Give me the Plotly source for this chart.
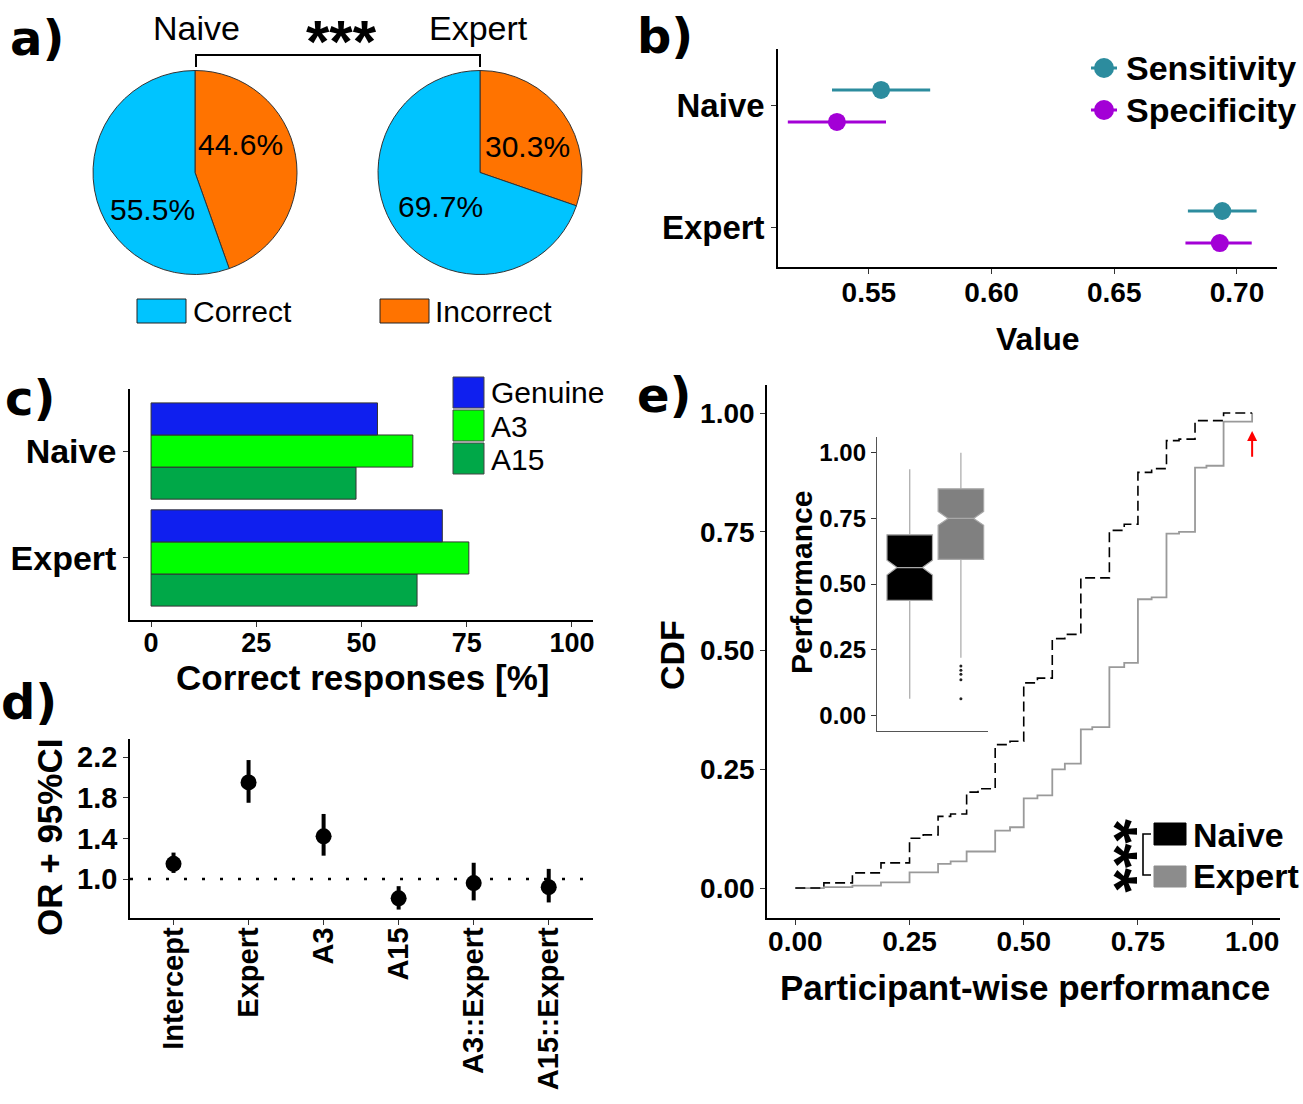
import plotly.graph_objects as go

W, H = 1303, 1104
FONT = "Liberation Sans, Arial, sans-serif"
LABEL_FONT = "DejaVu Sans, Verdana, sans-serif"

# ---------------- data ----------------
pie_labels = ["Incorrect", "Correct"]
naive_pie = [44.6, 55.5]
expert_pie = [30.3, 69.7]

groups = ["Naive", "Expert"]
sens_val = [0.555, 0.694]
sens_lo = [0.535, 0.680]
sens_hi = [0.575, 0.708]
spec_val = [0.537, 0.693]
spec_lo = [0.517, 0.679]
spec_hi = [0.557, 0.706]

genuine_pct = [53.8, 69.2]
a3_pct = [62.2, 75.5]
a15_pct = [48.7, 63.2]

terms = ["Intercept", "Expert", "A3", "A15", "A3::Expert", "A15::Expert"]
odds = [1.15, 1.95, 1.42, 0.81, 0.96, 0.92]
odds_lo = [1.06, 1.75, 1.23, 0.70, 0.79, 0.77]
odds_hi = [1.26, 2.17, 1.64, 0.93, 1.16, 1.10]

cdf_naive_x = [0, 0.0625, 0.125, 0.1875, 0.25, 0.28, 0.3125, 0.34, 0.375, 0.40,
               0.4375, 0.47, 0.5, 0.53, 0.5625, 0.59, 0.625, 0.6875, 0.72, 0.75,
               0.78, 0.8125, 0.84, 0.875, 0.9375, 1.0]
cdf_naive_y = [0, 0.011, 0.032, 0.053, 0.105, 0.112, 0.151, 0.156, 0.202, 0.209,
               0.302, 0.309, 0.432, 0.442, 0.525, 0.534, 0.653, 0.753, 0.766, 0.875,
               0.883, 0.942, 0.945, 0.984, 1.0, 1.0]
cdf_expert_x = [0, 0.0625, 0.125, 0.1875, 0.25, 0.3125, 0.34, 0.375, 0.4375, 0.47,
                0.5, 0.53, 0.5625, 0.59, 0.625, 0.65, 0.6875, 0.72, 0.75, 0.78,
                0.8125, 0.84, 0.875, 0.90, 0.9375, 1.0]
cdf_expert_y = [0, 0.002, 0.005, 0.012, 0.033, 0.051, 0.056, 0.077, 0.121, 0.128,
                0.189, 0.195, 0.250, 0.262, 0.334, 0.339, 0.465, 0.474, 0.608, 0.612,
                0.746, 0.750, 0.885, 0.889, 0.982, 1.0]

box_naive = dict(low=0.0625, q1=0.438, med=0.5625, q3=0.6875, high=0.9375, notch=0.028)
box_expert = dict(low=0.219, q1=0.594, med=0.75, q3=0.8625, high=1.0, notch=0.026)
expert_outliers = [0.1875, 0.171, 0.156, 0.135, 0.0625]

perf_ticks = [0, 0.25, 0.5, 0.75, 1.0]
perf_ticktext = ["0.00", "0.25", "0.50", "0.75", "1.00"]

# ---------------- colours ----------------
C_CORRECT = "#00C4FF"
C_INCORRECT = "#FF7300"
C_SENS = "#2C8C9E"
C_SPEC = "#A300D6"
C_GEN = "#0F1FEF"
C_A3 = "#00FF00"
C_A15 = "#00A848"
C_EXP_GREY = "#9a9a9a"


def px(x):
    return x / W


def py(y):
    return 1 - y / H


fig = go.Figure()

# ---- a) pies ----
for vals, dom in [(naive_pie, [93, 297]), (expert_pie, [378, 582])]:
    fig.add_trace(go.Pie(
        values=vals, labels=pie_labels, sort=False, direction="clockwise", rotation=0,
        marker=dict(colors=[C_INCORRECT, C_CORRECT], line=dict(color="#333", width=1)),
        textinfo="none",
        domain=dict(x=[px(dom[0]), px(dom[1])], y=[py(277), py(68)]),
        showlegend=False, hoverinfo="skip"))

# ---- b) sensitivity / specificity ----
for name, v, lo, hi, col in [("Specificity", spec_val, spec_lo, spec_hi, C_SPEC),
                             ("Sensitivity", sens_val, sens_lo, sens_hi, C_SENS)]:
    fig.add_trace(go.Scatter(
        x=v, y=groups, mode="markers", orientation="h", name=name,
        marker=dict(color=col, size=18),
        error_x=dict(type="data", symmetric=False,
                     array=[h - m for h, m in zip(hi, v)],
                     arrayminus=[m - l for m, l in zip(v, lo)],
                     color=col, thickness=3, width=0),
        xaxis="x", yaxis="y", showlegend=False))

# ---- c) bars ----
for name, vals, col in [("A15", a15_pct, C_A15), ("A3", a3_pct, C_A3), ("Genuine", genuine_pct, C_GEN)]:
    fig.add_trace(go.Bar(
        x=vals, y=groups, orientation="h", name=name,
        marker=dict(color=col, line=dict(color="#333", width=1)),
        xaxis="x2", yaxis="y2", showlegend=False))

# ---- d) odds ratios ----
fig.add_trace(go.Scatter(
    x=terms, y=odds, mode="markers",
    marker=dict(color="black", size=16),
    error_y=dict(type="data", symmetric=False,
                 array=[h - m for h, m in zip(odds_hi, odds)],
                 arrayminus=[m - l for m, l in zip(odds, odds_lo)],
                 color="black", thickness=4, width=0),
    xaxis="x3", yaxis="y3", showlegend=False))

# ---- e) CDF ----
fig.add_trace(go.Scatter(
    x=cdf_expert_x, y=cdf_expert_y, mode="lines", line=dict(shape="hv", color=C_EXP_GREY, width=1.8),
    offsetgroup="cdf", xaxis="x4", yaxis="y4", showlegend=False))
fig.add_trace(go.Scatter(
    x=cdf_naive_x, y=cdf_naive_y, mode="lines", line=dict(shape="hv", color="black", width=1.6, dash="10px,5px"),
    offsetgroup="cdf", xaxis="x4", yaxis="y4", showlegend=False))

# ---- inset boxplots ----
for name, st, fill in [("Naive", box_naive, "black"), ("Expert", box_expert, "#808080")]:
    fig.add_trace(go.Box(
        x=[name], q1=[st["q1"]], median=[st["med"]], q3=[st["q3"]],
        lowerfence=[st["low"]], upperfence=[st["high"]], notchspan=[st["notch"]],
        notched=True, notchwidth=0.22, width=0.89, whiskerwidth=0,
        fillcolor=fill, line=dict(color="#a8a8a8", width=1.2),
        xaxis="x5", yaxis="y5", showlegend=False, hoverinfo="skip"))
fig.add_trace(go.Scatter(
    x=["Expert"] * len(expert_outliers), y=expert_outliers, mode="markers",
    marker=dict(color="#222", size=3), xaxis="x5", yaxis="y5", showlegend=False))

# ---------------- axes ----------------
base = dict(showline=True, linecolor="black", linewidth=1.6, ticks="outside", ticklen=5,
            tickwidth=1.2, tickcolor="#333", showgrid=False, zeroline=False, fixedrange=True)


def tf(size):
    return dict(family=FONT, size=size, color="black", weight="bold")


layout_axes = dict(
    xaxis=dict(base, domain=[px(778), px(1277)], anchor="y", range=[0.513, 0.7163],
               tickvals=[0.55, 0.60, 0.65, 0.70], ticktext=["0.55", "0.60", "0.65", "0.70"],
               tickfont=tf(28), ticklabelstandoff=-5),
    yaxis=dict(base, domain=[py(267), py(49)], anchor="x", type="category",
               categoryorder="array", categoryarray=["Expert", "Naive"], range=[-0.33, 1.47],
               tickfont=tf(33)),
    xaxis2=dict(base, domain=[px(130), px(593)], anchor="y2", range=[-5, 105],
                tickvals=[0, 25, 50, 75, 100], tickfont=tf(27), ticklabelstandoff=-7),
    yaxis2=dict(base, domain=[py(620), py(389)], anchor="x2", type="category",
                categoryorder="array", categoryarray=["Expert", "Naive"], range=[-0.58, 1.58],
                tickfont=tf(34)),
    xaxis3=dict(base, domain=[px(130), px(593)], anchor="y3", type="category",
                categoryorder="array", categoryarray=terms, range=[-0.58, 5.59],
                tickangle=-90, tickfont=tf(29), ticklabelstandoff=-9),
    yaxis3=dict(base, domain=[py(918), py(739)], anchor="x3", range=[0.617, 2.377],
                tickvals=[1.0, 1.4, 1.8, 2.2], ticktext=["1.0", "1.4", "1.8", "2.2"],
                tickfont=tf(29)),
    xaxis4=dict(base, domain=[px(767), px(1280)], anchor="y4", range=[-0.062, 1.061],
                tickvals=perf_ticks, ticktext=perf_ticktext, tickfont=tf(28), ticklabelstandoff=-7),
    yaxis4=dict(base, domain=[py(918), py(385)], anchor="x4", range=[-0.063, 1.059],
                tickvals=perf_ticks, ticktext=perf_ticktext, tickfont=tf(28)),
    xaxis5=dict(base, domain=[px(877), px(988)], anchor="y5", type="category",
                categoryorder="array", categoryarray=["Naive", "Expert"], range=[-0.64, 1.53],
                showticklabels=False, ticks="", linecolor="#555", linewidth=1.3),
    yaxis5=dict(base, domain=[py(731), py(437)], anchor="x5", range=[-0.06, 1.06],
                tickvals=perf_ticks, ticktext=perf_ticktext, tickfont=tf(24),
                linecolor="#555", linewidth=1.3),
)

shapes = []
annotations = []


def rect(x0, y0, x1, y1, fill, line="#222", lw=1):
    shapes.append(dict(type="rect", xref="paper", yref="paper", x0=px(x0), x1=px(x1),
                       y0=py(y1), y1=py(y0), fillcolor=fill, line=dict(color=line, width=lw)))


def seg(x0, y0, x1, y1, color="black", width=1.6):
    shapes.append(dict(type="line", xref="paper", yref="paper", x0=px(x0), x1=px(x1),
                       y0=py(y0), y1=py(y1), line=dict(color=color, width=width)))


def text(x, y, s, size, bold=False, xanchor="center", angle=0, family=FONT, color="black"):
    annotations.append(dict(x=px(x), y=py(y), xref="paper", yref="paper", text=s, showarrow=False,
                            xanchor=xanchor, yanchor="middle", textangle=angle,
                            font=dict(family=family, size=size, color=color,
                                      weight="bold" if bold else "normal")))


# panel letters
for lab, x, y in [("a)", 37, 38), ("b)", 665, 36), ("c)", 30, 398), ("d)", 29, 702), ("e)", 664, 395)]:
    text(x, y, lab, 48, bold=True, family=LABEL_FONT)

# a) slice labels (values from the pie data), titles, bracket, legend
for val, (x, y) in zip(naive_pie, [(240, 144), (152, 209)]):
    text(x, y, f"{val}%", 30)
for val, (x, y) in zip(expert_pie, [(527, 147), (440, 206)]):
    text(x, y, f"{val}%", 30)
text(196, 28, "Naive", 34)
text(478, 28, "Expert", 34)
text(341, 41, "***", 60, bold=True)
shapes.append(dict(type="path", xref="paper", yref="paper",
                   path="M %f,%f L %f,%f L %f,%f L %f,%f" % (px(196), py(67), px(196), py(55),
                                                         px(480), py(55), px(480), py(67)),
                   line=dict(color="black", width=2)))
rect(137, 299, 186, 323, C_CORRECT)
text(191, 311, "Correct", 30, xanchor="left")
rect(380, 299, 429, 323, C_INCORRECT)
text(433, 311, "Incorrect", 30, xanchor="left")

# b) legend and title
for yy, col, lab in [(68, C_SENS, "Sensitivity"), (110, C_SPEC, "Specificity")]:
    seg(1091, yy, 1117, yy, col, 3)
    shapes.append(dict(type="circle", xref="paper", yref="paper", x0=px(1094), x1=px(1114),
                       y0=py(yy + 10), y1=py(yy - 10), fillcolor=col, line=dict(width=0)))
    text(1124, yy, lab, 34, bold=True, xanchor="left")
text(1038, 339, "Value", 32, bold=True)

# c) legend and title
for (y0, col, lab) in [(377, C_GEN, "Genuine"), (410, C_A3, "A3"), (443, C_A15, "A15")]:
    rect(453, y0, 484, y0 + 31, col, "#444")
    text(489, y0 + 16, lab, 30, xanchor="left")
text(362, 677, "Correct responses [%]", 35, bold=True)

# d) title + reference line
text(49, 838, "OR + 95%CI", 35, bold=True, angle=-90)
shapes.append(dict(type="line", xref="x3 domain", yref="y3", x0=0, x1=1, y0=1.0, y1=1.0,
                   line=dict(color="black", width=2.5, dash="3px,15px"), layer="below"))

# e) titles, legend, significance bracket, arrow
text(672, 655, "CDF", 34, bold=True, angle=-90)
text(1025, 987, "Participant-wise performance", 35, bold=True)
text(801, 583, "Performance", 30, bold=True, angle=-90)
rect(1154, 823, 1186, 845, "black", "black")
rect(1154, 866, 1186, 887, "#8c8c8c", "#8c8c8c")
text(1191, 835, "Naive", 34, bold=True, xanchor="left")
text(1191, 876, "Expert", 34, bold=True, xanchor="left")
text(1116, 856, "***", 63, bold=True, angle=90)
shapes.append(dict(type="path", xref="paper", yref="paper",
                   path="M %f,%f L %f,%f L %f,%f L %f,%f" % (px(1151), py(834), px(1143), py(834),
                                                         px(1143), py(875), px(1151), py(875)),
                   line=dict(color="black", width=1.6)))
annotations.append(dict(x=1.0, y=0.962, ax=1.0, ay=0.905, xref="x4", yref="y4",
                        axref="x4", ayref="y4", text="", showarrow=True, arrowhead=2,
                        arrowsize=1, arrowwidth=2, arrowcolor="red"))

fig.update_layout(
    width=W, height=H, margin=dict(l=0, r=0, t=0, b=0),
    paper_bgcolor="white", plot_bgcolor="white",
    font=dict(family=FONT, color="black"),
    barmode="group", bargap=0.1, bargroupgap=0,
    scattermode="group", scattergap=0.47,
    showlegend=False, hovermode=False,
    shapes=shapes, annotations=annotations,
    **layout_axes)

fig.write_html("out.html", config={"displayModeBar": False},
               post_script="document.body.style.margin='0px';")
